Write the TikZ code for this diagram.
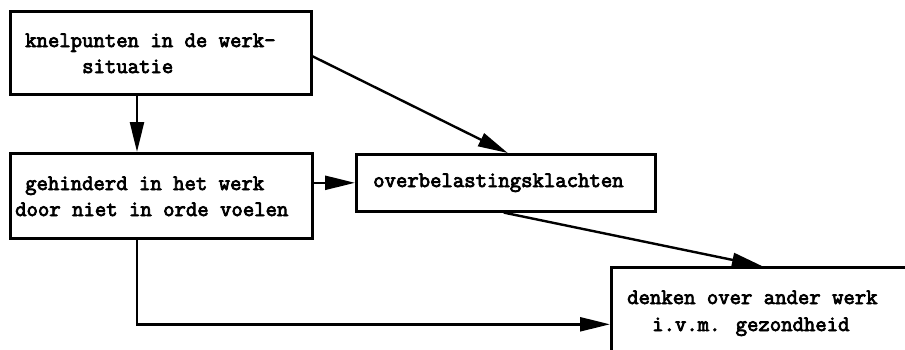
\documentclass[tikz,border=0pt]{standalone}
\usepackage{fontspec}
\newfontfamily\typewriter{Latin Modern Mono}[FakeBold=3.5]
\usetikzlibrary{arrows.meta}
\begin{document}
\begin{tikzpicture}[x=1pt,y=-1pt,
  box/.style={draw, line width=2.6pt, rectangle, inner sep=0pt, anchor=north west},
  lbl/.style={font=\typewriter\fontsize{22.1}{26}\selectfont, inner sep=0pt, anchor=base west},
  link/.style={line width=2.4pt, -{Triangle[length=30pt,width=14pt]}}]
\useasboundingbox (0,0) rectangle (905,349);
\clip (0,0) rectangle (905,349);
\fill[white] (0,0) rectangle (905,349);

% boxes
\node[box, minimum width=301pt, minimum height=83pt] (A) at (9,10) {};
\node[box, minimum width=302pt, minimum height=85pt] (B) at (9,152) {};
\node[box, minimum width=299pt, minimum height=57pt] (C) at (355,153) {};
\node[box, minimum width=400pt, minimum height=150pt] (D) at (610,266) {};

% box texts
\node[lbl] (A1) at (25,47) {knelpunten in de werk-};
\node[lbl] (A2) at (82,73) {situatie};
\node[lbl] (B1) at (25,190) {gehinderd in het werk};
\node[lbl] (B2) at (15,216) {door niet in orde voelen};
\node[lbl] (C1) at (373,187) {overbelastingsklachten};
\node[lbl] (D1) at (627,304) {denken over ander werk};
\node[lbl] (D2) at (652,331) {i.v.m. gezondheid};

% connectors
\coordinate (ab) at (137,0);
\draw[link] (A.south -| ab) -- (B.north -| ab);
\draw[link] ([yshift=-3.5pt]A.east) -- ([xshift=2pt]C.north);
\draw[link] (B.east |- C.west) -- (C.west);
\draw[link] ([xshift=-2pt]C.south) -- ([xshift=152pt]D.north west);
\draw[link] (B.south -| ab) |- ([yshift=18pt]D.west);
\end{tikzpicture}
\end{document}
